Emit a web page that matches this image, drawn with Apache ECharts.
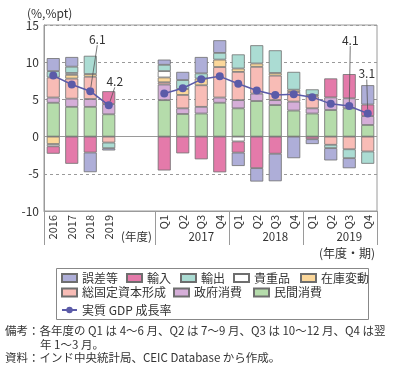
<!DOCTYPE html>
<html><head><meta charset="utf-8">
<script src="https://cdn.jsdelivr.net/npm/echarts@6/dist/echarts.min.js"></script>
<style>html,body{margin:0;padding:0;background:#fff}#c{width:400px;height:368px}</style>
</head><body><div id="c"></div>
<script>
// ---- data ----
const categories = ['2016','2017','2018','2019','','','Q1','Q2','Q3','Q4','Q1','Q2','Q3','Q4','Q1','Q2','Q3','Q4'];
const yearLabels = ['','','','','','','','','2017','','','','2018','','','','2019',''];
const boundaryLabels = ['','','','','','(年度)','','','','','','','','','','','','',''];
const separatorIdx = [0,6,10,14,18];
const yTicks = [-10,-5,0,5,10,15];

const privateCons = [4.55, 4.0, 4.0, 3.0, null, null, 4.9, 3.04, 3.1, 4.55, 3.8, 4.78, 4.24, 3.5, 3.1, 3.57, 3.8, 1.56];
const govCons     = [0.7, 1.1, 1.05, 1.37, null, null, 2.1, 0.76, 0.9, 0.7, 1.1, 1.0, 0.66, 1.2, 0.7, 1.7, 1.35, 1.2];
const gfcf        = [2.7, 2.7, 3.0, -0.8, null, null, 0.3, 1.8, 2.9, 4.1, 3.8, 3.6, 3.3, 1.3, 1.6, -1.1, -1.7, -2.0];
const stocks      = [-1.0, 0.5, 0.36, null, null, null, 0.65, 0.8, 0.9, 1.0, 0.45, 0.45, 0.35, 0.3, 0.2, null, null, null];
const valuables   = [-0.3, 0.25, null, null, null, null, 0.85, null, null, null, -0.65, null, null, null, null, null, null, null];
const exportsV    = [0.85, 0.85, 2.45, -0.76, null, null, 0.85, 1.2, 0.7, 0.9, 1.9, 2.45, 3.05, 2.4, 0.75, -0.45, -1.2, -1.65];
const importsV    = [-1.0, -3.65, -2.14, 1.73, null, null, -4.55, -2.25, -3.05, -4.8, -1.5, -4.24, -2.3, null, -0.35, 2.55, 3.25, 1.55];
const discrepancy = [1.75, 1.3, -2.64, -0.3, null, null, 0.7, 1.1, 2.2, 1.7, -1.8, -1.8, -3.7, -2.9, -0.65, -1.65, -1.35, 2.6];
const gdp         = [8.2, 7.0, 6.1, 4.2, null, null, 5.8, 6.5, 7.7, 8.1, 7.1, 6.2, 5.6, 5.7, 5.3, 4.4, 4.1, 3.1];
const labeledIdx  = [2, 3, 16, 17];

// ---- styling ----
const FONT = '"Noto Sans CJK JP", "Noto Sans", sans-serif';
const TXT = '#333';
const AX = '#9a9a9a';
const colors = {
  '民間消費':'#b5dcab','政府消費':'#d5aed8','総固定資本形成':'#f8bcb6','在庫変動':'#fbd79a',
  '貴重品':'#ffffff','輸出':'#abdcd3','輸入':'#e47aaa','誤差等':'#aeaed8'
};
const stackOrder = [
  ['民間消費', privateCons], ['政府消費', govCons], ['総固定資本形成', gfcf], ['在庫変動', stocks],
  ['貴重品', valuables], ['輸出', exportsV], ['輸入', importsV], ['誤差等', discrepancy]
];
const labelOffsets = {2:[7,-37], 3:[6,-9], 16:[1,-51], 17:[-1,-25]};

const barSeries = stackOrder.map(([n, arr], k) => {
  const s = {
    name: n, type: 'bar', stack: 'a', barWidth: 13, xAxisIndex: 0,
    data: arr.map(v => v === null ? '-' : v),
    itemStyle: { color: colors[n], borderColor: '#6e6e6e', borderWidth: 0.8 },
    emphasis: { disabled: true }
  };
  if (k === 0) {
    s.markLine = { silent: true, symbol: 'none', label: { show: false },
      lineStyle: { color: AX, type: 'solid', width: 1 }, data: [{ yAxis: 0 }], z: 1 };
  }
  return s;
});

const lineSeries = {
  name: '実質 GDP 成長率', type: 'line', xAxisIndex: 0, z: 10,
  data: gdp.map((v, i) => v === null ? '-' :
    (labeledIdx.includes(i) ? { value: v, label: { show: true }, labelLine: { show: true } } : v)),
  connectNulls: false,
  symbol: 'circle', symbolSize: 8,
  lineStyle: { color: '#5b5ba8', width: 1.5 },
  itemStyle: { color: '#5b5ba8' },
  label: { show: false, position: 'top', color: TXT, fontSize: 12, fontFamily: FONT,
    formatter: p => Number(p.value).toFixed(1) },
  labelLine: { show: false, lineStyle: { color: '#555', width: 0.8 } },
  labelLayout: p => { const o = labelOffsets[p.dataIndex]; return o ? { dx: o[0], dy: o[1] } : {}; },
  emphasis: { disabled: true }
};

function legendItem(name, left, top, icon) {
  const l = { data: [name], left, top, padding: 0, itemWidth: 15, itemHeight: 8, selectedMode: false,
    textStyle: { fontSize: 12, color: TXT, fontFamily: FONT } };
  if (icon) l.icon = icon;
  return l;
}
const legends = [
  legendItem('誤差等', 61, 272, 'rect'), legendItem('輸入', 126, 272, 'rect'), legendItem('輸出', 180, 272, 'rect'),
  legendItem('貴重品', 233, 272, 'rect'), legendItem('在庫変動', 300, 272, 'rect'),
  legendItem('総固定資本形成', 61, 286.5, 'rect'), legendItem('政府消費', 173, 286.5, 'rect'), legendItem('民間消費', 253, 286.5, 'rect'),
  legendItem('実質 GDP 成長率', 61, 304)
];

const chart = echarts.init(document.getElementById('c'), null, { renderer: 'canvas' });
chart.setOption({
  animation: false,
  textStyle: { fontFamily: FONT },
  grid: { left: 44, right: 23, top: 25, bottom: 157, show: true, borderColor: AX, borderWidth: 1 },
  legend: legends,
  xAxis: [
    { type: 'category', data: categories, position: 'bottom',
      axisLine: { onZero: false, lineStyle: { color: AX } }, axisTick: { show: false },
      axisLabel: { interval: 0, rotate: 90, margin: 4, fontSize: 11, color: TXT, fontFamily: FONT } },
    { type: 'category', data: yearLabels, position: 'bottom',
      axisLine: { show: false }, axisTick: { show: false },
      axisLabel: { interval: 0, margin: 20, fontSize: 11.5, color: TXT, fontFamily: FONT } },
    { type: 'category', data: boundaryLabels, position: 'bottom', boundaryGap: false,
      axisLine: { show: false },
      axisTick: { show: true, length: 34, interval: i => separatorIdx.includes(i), lineStyle: { color: AX } },
      axisLabel: { interval: 0, margin: 20, fontSize: 11.5, color: TXT, fontFamily: FONT } }
  ],
  yAxis: {
    type: 'value', min: yTicks[0], max: yTicks[yTicks.length - 1], interval: 5,
    name: '(%,%pt)', nameLocation: 'end', nameGap: 6,
    nameTextStyle: { color: TXT, fontSize: 12, fontFamily: FONT, align: 'left', padding: [0, 0, 0, -17] },
    axisLine: { show: true, lineStyle: { color: AX } }, axisTick: { show: false },
    axisLabel: { color: TXT, fontSize: 12, margin: 5, fontFamily: FONT },
    splitLine: { show: true, lineStyle: { color: AX, type: [3, 3], width: 1 } }
  },
  series: [...barSeries, lineSeries],
  graphic: [
    { type: 'rect', shape: { x: 56.5, y: 268.5, width: 312, height: 51 },
      style: { fill: 'none', stroke: '#888', lineWidth: 1 }, z: 0 },
    { type: 'text', x: 375, y: 253, style: { text: '(年度・期)', fontSize: 12, fontFamily: FONT, fill: TXT,
      align: 'right', verticalAlign: 'middle' } },
    { type: 'text', x: 5, y: 331, style: { text: '備考：各年度の Q1 は 4〜6 月、Q2 は 7〜9 月、Q3 は 10〜12 月、Q4 は翌',
      fontSize: 11.5, fontFamily: FONT, fill: TXT, verticalAlign: 'middle' } },
    { type: 'text', x: 40, y: 344.5, style: { text: '年 1〜3 月。',
      fontSize: 11.5, fontFamily: FONT, fill: TXT, verticalAlign: 'middle' } },
    { type: 'text', x: 5, y: 358, style: { text: '資料：インド中央統計局、CEIC Database から作成。',
      fontSize: 11.5, fontFamily: FONT, fill: TXT, verticalAlign: 'middle' } }
  ]
});
</script></body></html>
